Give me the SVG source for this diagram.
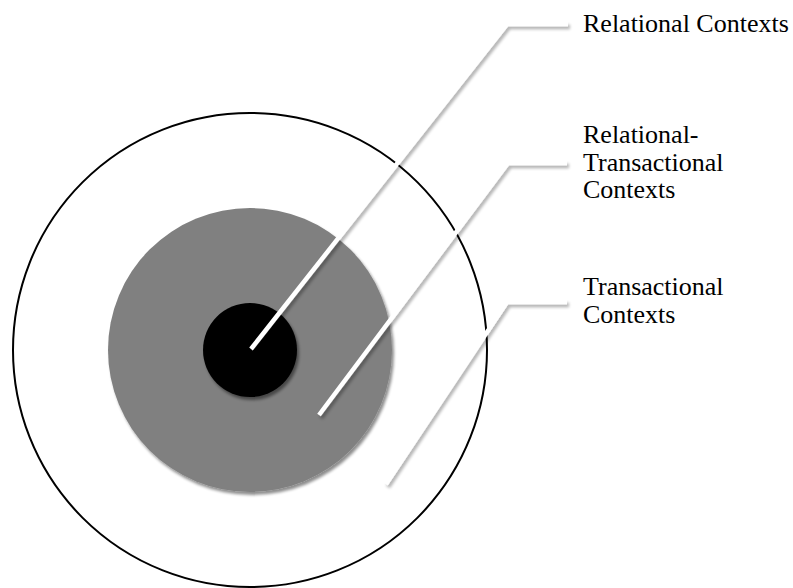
<svg xmlns="http://www.w3.org/2000/svg" width="793" height="588" viewBox="0 0 793 588">
  <defs>
    <filter id="shadow" x="-20%" y="-20%" width="140%" height="140%">
      <feGaussianBlur in="SourceAlpha" stdDeviation="1.6"/>
      <feOffset dx="2" dy="3" result="blur"/>
      <feComponentTransfer><feFuncA type="linear" slope="0.45"/></feComponentTransfer>
      <feMerge><feMergeNode/><feMergeNode in="SourceGraphic"/></feMerge>
    </filter>
    <filter id="line-shadow" x="-20%" y="-20%" width="140%" height="140%">
      <feGaussianBlur in="SourceAlpha" stdDeviation="1.8"/>
      <feOffset dx="2" dy="3" result="blur"/>
      <feComponentTransfer><feFuncA type="linear" slope="0.3"/></feComponentTransfer>
      <feMerge><feMergeNode/><feMergeNode in="SourceGraphic"/></feMerge>
    </filter>
  </defs>
  <style>
    .label { font-family: "Liberation Serif", "Times New Roman", serif; font-size: 26px; fill: #000; }
    .leader { fill: none; stroke: #fff; stroke-width: 4.5; stroke-linejoin: miter; }
  </style>
  <rect width="793" height="588" fill="#fff"/>

  <!-- concentric context rings -->
  <g id="transactional-ring">
    <circle cx="250" cy="350" r="237" fill="#fff" stroke="#000" stroke-width="2"/>
  </g>
  <g id="relational-transactional-ring" filter="url(#shadow)">
    <circle cx="250" cy="350" r="142" fill="#808080"/>
  </g>
  <g id="relational-core" filter="url(#shadow)">
    <circle cx="250" cy="350" r="47" fill="#000"/>
  </g>

  <!-- leader lines from each ring to its label -->
  <g id="connectors" filter="url(#line-shadow)">
    <polyline class="leader" points="251,349 507,24 568,24"/>
    <polyline class="leader" points="319,415 508,163 567,163"/>
    <polyline class="leader" points="386,484 507,302 567,302"/>
  </g>

  <g id="label-relational">
    <text class="label" x="583" y="32">Relational Contexts</text>
  </g>
  <g id="label-relational-transactional">
    <text class="label" x="583" y="143">Relational-</text>
    <text class="label" x="583" y="171">Transactional</text>
    <text class="label" x="583" y="198">Contexts</text>
  </g>
  <g id="label-transactional">
    <text class="label" x="583" y="295">Transactional</text>
    <text class="label" x="583" y="323">Contexts</text>
  </g>
</svg>
